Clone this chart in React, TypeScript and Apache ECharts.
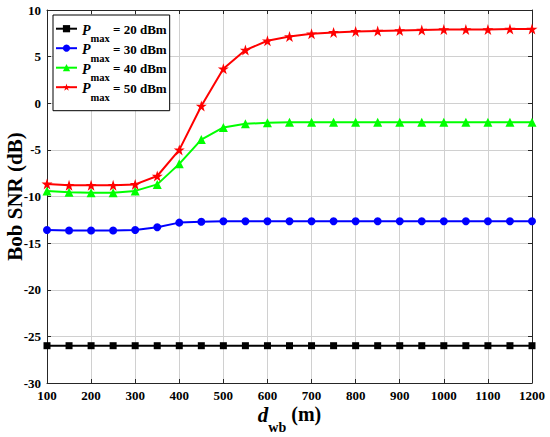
import React, { useEffect, useRef } from "react";
import * as echarts from "echarts";

const distances = [100, 150, 200, 250, 300, 350, 400, 450, 500, 550, 600, 650, 700, 750, 800, 850, 900, 950, 1000, 1050, 1100, 1150, 1200];
const snr20 = [-26, -26, -26, -26, -26, -26, -26, -26, -26, -26, -26, -26, -26, -26, -26, -26, -26, -26, -26, -26, -26, -26, -26];
const snr30 = [-13.6, -13.65, -13.65, -13.65, -13.6, -13.3, -12.8, -12.7, -12.65, -12.65, -12.65, -12.65, -12.65, -12.65, -12.65, -12.65, -12.65, -12.65, -12.65, -12.65, -12.65, -12.65, -12.65];
const snr40 = [-9.4, -9.55, -9.6, -9.6, -9.4, -8.7, -6.5, -3.9, -2.6, -2.2, -2.1, -2.05, -2.05, -2.05, -2.05, -2.05, -2.05, -2.05, -2.05, -2.05, -2.05, -2.05, -2.05];
const snr50 = [-8.65, -8.8, -8.8, -8.8, -8.7, -7.8, -5.0, -0.3, 3.7, 5.7, 6.7, 7.15, 7.45, 7.6, 7.7, 7.75, 7.8, 7.85, 7.9, 7.9, 7.9, 7.95, 7.95];
const seriesNames = ["20", "30", "40", "50"];
const xTicks = { min: 100, max: 1200, interval: 100 };
const yTicks = { min: -30, max: 10, interval: 5 };

const STAR = "path://M50,0 L61.8,35.4 L100,35.4 L69.1,57.3 L80.9,93.5 L50,71.5 L19.1,93.5 L30.9,57.3 L0,35.4 L38.2,35.4 Z";

const FONT = "'Liberation Serif', 'Times New Roman', serif";

export default function App() {
  const ref = useRef<HTMLDivElement>(null);
  useEffect(() => {
    if (!ref.current) return;
    const chart = echarts.init(ref.current, undefined, { renderer: "svg" });
    const mk = (v: number[]) => distances.map((d, i) => [d, v[i]]);
    const cfg = [
      { data: snr20, color: "#000000", symbol: "rect", size: 7 },
      { data: snr30, color: "#0000ff", symbol: "circle", size: 8 },
      { data: snr40, color: "#00ff00", symbol: "triangle", size: 9 },
      { data: snr50, color: "#ff0000", symbol: STAR, size: 11 },
    ];
    const axisLine = { show: true, onZero: false, lineStyle: { color: "#262626", width: 1 } };
    const axisTick = { show: true, inside: true, length: 4, lineStyle: { color: "#262626", width: 1 } };
    const splitLine = { show: true, lineStyle: { color: "#d0d0d0", width: 1, type: "solid" } };
    chart.setOption({
      animation: false,
      backgroundColor: "#ffffff",
      grid: { left: 47, right: 18, top: 10, bottom: 54, containLabel: false, outerBoundsMode: "none" },
      legend: {
        orient: "vertical",
        left: 53,
        top: 15,
        backgroundColor: "#ffffff",
        borderColor: "#000000",
        borderWidth: 1,
        borderRadius: 0,
        padding: [5.7, 3, 8, 2],
        itemGap: -4,
        itemWidth: 21,
        itemHeight: 9,
        data: seriesNames,
        formatter: (name: string) => `{p|P}{sub|max}{t| = ${name} dBm}`,
        textStyle: {
          fontFamily: FONT,
          fontWeight: "bold",
          color: "#000",
          rich: {
            p: { fontFamily: FONT, fontStyle: "italic", fontWeight: "bold", fontSize: 14, color: "#000", lineHeight: 16, verticalAlign: "top", padding: [2.5, 0, 0, 0] },
            sub: { fontFamily: FONT, fontWeight: "bold", fontSize: 10.5, color: "#000", lineHeight: 11, verticalAlign: "top", padding: [12.5, 0, 0, 0] },
            t: { fontFamily: FONT, fontWeight: "bold", fontSize: 13, color: "#000", lineHeight: 16, verticalAlign: "top", padding: [2.5, 0, 0, 0] },
          },
        },
      },
      xAxis: [
        {
          type: "value",
          min: xTicks.min,
          max: xTicks.max,
          interval: xTicks.interval,
          axisLine,
          axisTick,
          splitLine,
          axisLabel: { fontFamily: FONT, fontWeight: "bold", fontSize: 13, color: "#000", margin: 6, formatter: (v: number) => String(v) },
          name: "{d|d}{sub|wb}{t| (m)}",
          nameLocation: "middle",
          nameGap: 21,
          nameMoveOverlap: false,
          nameTextStyle: {
            rich: {
              d: { fontFamily: FONT, fontStyle: "italic", fontWeight: "bold", fontSize: 21, color: "#000", lineHeight: 22, verticalAlign: "top" },
              sub: { fontFamily: FONT, fontWeight: "bold", fontSize: 14, color: "#000", lineHeight: 14, verticalAlign: "top", padding: [16, 0, 0, 0] },
              t: { fontFamily: FONT, fontWeight: "bold", fontSize: 20, color: "#000", lineHeight: 22, verticalAlign: "top" },
            },
          },
        },
        {
          type: "value",
          position: "top",
          min: xTicks.min,
          max: xTicks.max,
          interval: xTicks.interval,
          axisLine,
          axisTick,
          axisLabel: { show: false },
          splitLine: { show: false },
        },
      ],
      yAxis: [
        {
          type: "value",
          min: yTicks.min,
          max: yTicks.max,
          interval: yTicks.interval,
          axisLine,
          axisTick,
          splitLine,
          axisLabel: { fontFamily: FONT, fontWeight: "bold", fontSize: 13, color: "#000", margin: 6 },
          name: "Bob SNR (dB)",
          nameLocation: "middle",
          nameGap: 22,
          nameMoveOverlap: false,
          nameTextStyle: { fontFamily: FONT, fontWeight: "bold", fontSize: 21, color: "#000" },
        },
        {
          type: "value",
          position: "right",
          min: yTicks.min,
          max: yTicks.max,
          interval: yTicks.interval,
          axisLine,
          axisTick,
          axisLabel: { show: false },
          splitLine: { show: false },
        },
      ],
      series: cfg.map((c, i) => ({
        name: seriesNames[i],
        type: "line",
        xAxisIndex: 0,
        yAxisIndex: 0,
        data: mk(c.data),
        symbol: c.symbol,
        symbolSize: c.size,
        showAllSymbol: true,
        color: c.color,
        lineStyle: { color: c.color, width: 2 },
        itemStyle: { color: c.color },
        z: 2 + i,
      })),
    });
    return () => chart.dispose();
  }, []);
  return <div ref={ref} style={{ width: 550, height: 437, position: "absolute", left: 0, top: 0 }} />;
}
